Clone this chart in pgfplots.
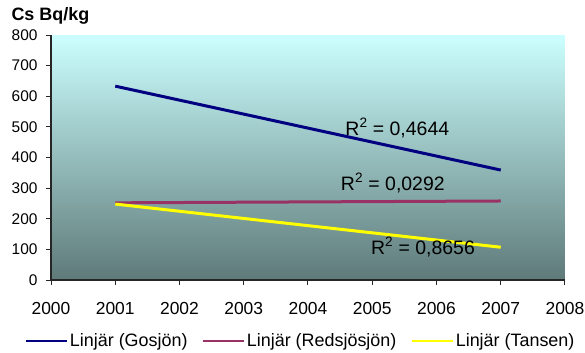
\documentclass[border=0pt]{standalone}
\usepackage{fontspec}
\setmainfont{Liberation Sans}
\usepackage{pgfplots}
\pgfplotsset{compat=1.18}

\definecolor{bgtop}{RGB}{204,255,255}
\definecolor{bgbottom}{RGB}{94,122,121}
\definecolor{gosjon}{RGB}{0,0,128}
\definecolor{redsjo}{RGB}{153,51,102}
\definecolor{tansen}{RGB}{255,255,0}

\newcommand{\yfont}{\fontsize{15.5}{18}\selectfont}
\newcommand{\xfont}{\fontsize{17.5}{20}\selectfont}
\newcommand{\legfont}{\fontsize{18}{21}\selectfont}
\newcommand{\rfont}{\fontsize{19.5}{23}\selectfont}

\begin{document}
\begin{tikzpicture}
\useasboundingbox (-51bp,-73bp) rectangle (534bp,280bp);
\begin{axis}[
  at={(0,0)}, anchor=south west,
  scale only axis,
  width=514bp, height=245bp,
  xmin=2000, xmax=2008,
  ymin=0, ymax=800,
  xtick={2000,2001,...,2008},
  ytick={0,100,...,800},
  axis x line*=bottom,
  axis y line*=left,
  axis line style={line width=1.2bp, black!85},
  tick style={line width=1bp, black!85},
  tick align=outside,
  major tick length=5bp,
  /pgf/number format/assume math mode=true,
  /pgf/number format/1000 sep={},
  yticklabel style={font=\yfont, xshift=-5bp},
  xticklabel style={font=\xfont, yshift=-14bp},
  axis background/.style={shade, top color=bgtop, bottom color=bgbottom},
  legend columns=3,
  legend style={at={(axis description cs:0.4854,-0.249)}, anchor=center,
    draw=none, fill=none, font=\legfont,
    /tikz/every even column/.append style={column sep=12bp}},
  legend image code/.code={\draw[#1, line width=2.4bp] (0bp,0bp) -- (41bp,0bp);},
  clip=false,
]
% linear trend lines per lake
\addplot[gosjon, line width=3bp] coordinates {(2001,633) (2007,359)};
\addlegendentry{Linjär (Gosjön)}
\addplot[redsjo, line width=3bp] coordinates {(2001,252) (2007,258)};
\addlegendentry{Linjär (Redsjösjön)}
\addplot[tansen, line width=3bp] coordinates {(2001,248) (2007,107)};
\addlegendentry{Linjär (Tansen)}

\node[font=\rfont] at (axis cs:2005.39,496) {R\textsuperscript{2} = 0,4644};
\node[font=\rfont] at (axis cs:2005.32,317) {R\textsuperscript{2} = 0,0292};
\node[font=\rfont] at (axis cs:2005.79,108) {R\textsuperscript{2} = 0,8656};
\end{axis}
\node[anchor=west, font=\legfont\bfseries] at (-43bp,264bp) {Cs Bq/kg};
\end{tikzpicture}
\end{document}
